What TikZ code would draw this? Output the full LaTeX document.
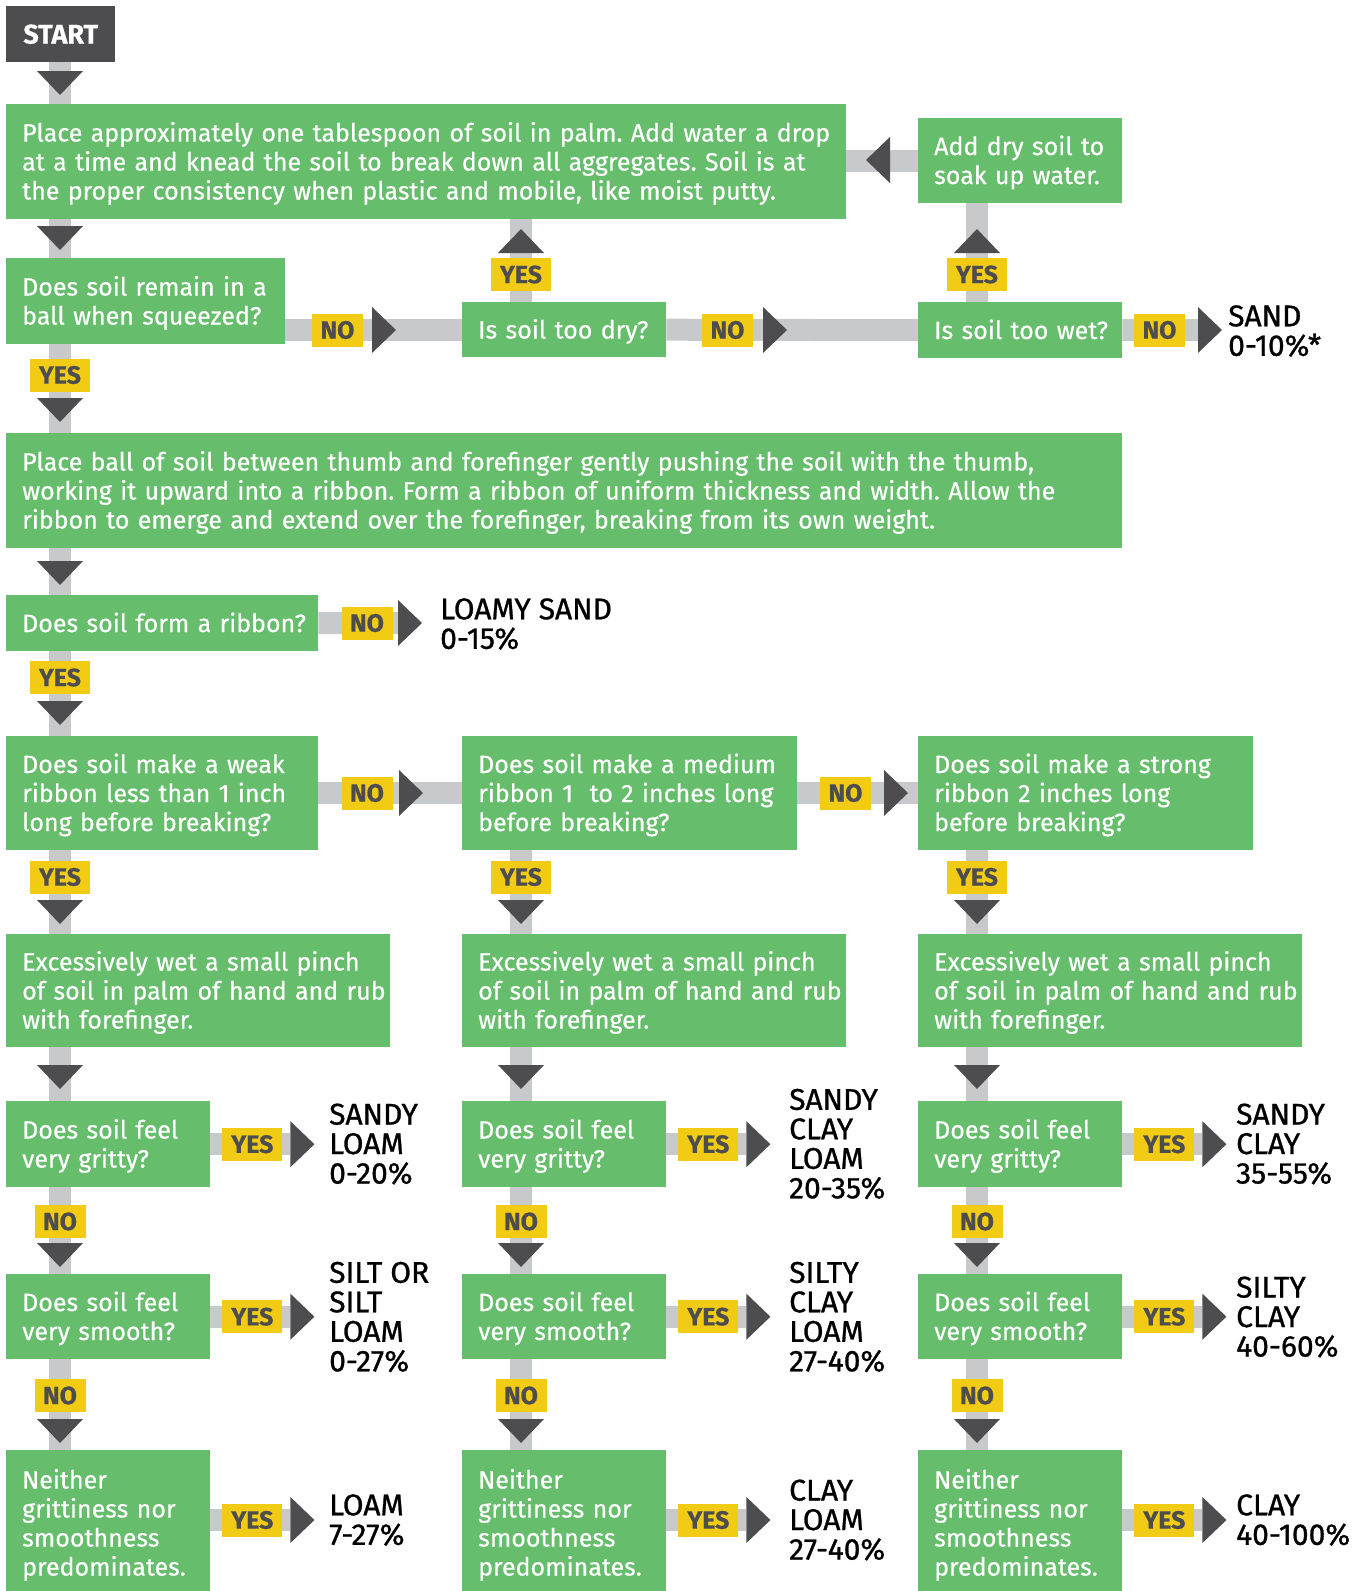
\documentclass[tikz,border=0pt]{standalone}
\usepackage{fontspec}
\setmainfont{Fira Sans}[FakeBold=0.5]
\newfontfamily\resfam{Fira Sans}[FakeBold=0.9]
\usetikzlibrary{calc}
\definecolor{bgreen}{HTML}{66BD6B}
\definecolor{cgray}{HTML}{C8C9CB}
\definecolor{dgray}{HTML}{4D4D4F}
\definecolor{lyell}{HTML}{F1CB14}
\frenchspacing
\newcommand\boxfont{\fontsize{25}{29}\selectfont}
\newcommand\labfont{\fontsize{25}{29}\selectfont\bfseries}
\newcommand\resfont{\resfam\fontsize{30}{29.5}\selectfont}
\newcommand\tl[1]{\raisebox{-3pt}[\height][\depth]{\begin{tabular}{@{}l@{}}#1\end{tabular}}}
\pgfdeclarelayer{bg}
\pgfsetlayers{bg,main}
\tikzset{
  box/.style={fill=bgreen, text=white, anchor=north west, inner xsep=16pt, inner ysep=0pt, align=left, font=\boxfont},
  startbox/.style={fill=dgray, text=white, anchor=north west, inner sep=0pt, font=\fontsize{27}{29}\selectfont\bfseries, minimum width=109pt, minimum height=56pt},
  lab/.style={fill=lyell, text=dgray, font=\labfont, minimum height=33pt, inner xsep=0pt, inner ysep=0pt},
  yes/.style={lab, minimum width=60pt},
  no/.style={lab, minimum width=51pt},
  res/.style={anchor=west, align=left, font=\resfont, inner sep=0pt, text=black},
  conn/.style={draw=cgray, line width=22pt},
  tri/.style={fill=dgray},
}
% triangles: down (tip), up (tip), right (base centre), left (tip)
\newcommand\dtri[1]{\fill[tri] #1 -- ++(-23,-24) -- ++(46,0) -- cycle;}
\newcommand\utri[1]{\fill[tri] #1 -- ++(-23,24) -- ++(46,0) -- cycle;}
\newcommand\rtri[1]{\fill[tri] #1 ++(0,-23) -- ++(24,23) -- ++(-24,23) -- cycle;}
\newcommand\ltri[1]{\fill[tri] #1 -- ++(24,-23) -- ++(0,46) -- cycle;}
\begin{document}
\begin{tikzpicture}[x=1pt,y=-1pt]
\useasboundingbox (0,0) rectangle (1365,1591);
\coordinate (c1) at (60,0);
\coordinate (c2) at (521,0);
\coordinate (c3) at (977,0);

% ---------- boxes ----------
\node[startbox] (start) at (6,6) {START};
\node[box, minimum width=840pt, minimum height=115pt, text width=808pt] (b1) at (6,104)
  {\tl{Place approximately one tablespoon of soil in palm. Add water a drop\\at a time and knead the soil to break down all aggregates. Soil is at\\the proper consistency when plastic and mobile, like moist putty.}};
\node[box, minimum width=279pt, minimum height=86pt, text width=247pt] (b2) at (6,258)
  {\tl{Does soil remain in a\\ball when squeezed?}};
\node[box, minimum width=204pt, minimum height=55pt, text width=172pt] (dry) at (462,302)
  {\tl{Is soil too dry?}};
\node[box, minimum width=204pt, minimum height=85pt, text width=172pt] (add) at (918,118)
  {\tl{Add dry soil to\\soak up water.}};
\node[box, minimum width=204pt, minimum height=56pt, text width=172pt] (wet) at (918,302)
  {\tl{Is soil too wet?}};
\node[box, minimum width=1116pt, minimum height=115pt, text width=1084pt] (b3) at (6,433)
  {\tl{Place ball of soil between thumb and forefinger gently pushing the soil with the thumb,\\working it upward into a ribbon. Form a ribbon of uniform thickness and width. Allow the\\ribbon to emerge and extend over the forefinger, breaking from its own weight.}};
\node[box, minimum width=312pt, minimum height=56pt, text width=280pt] (b4) at (6,595)
  {\tl{Does soil form a ribbon?}};
\node[box, minimum width=312pt, minimum height=114pt, text width=280pt] (weak) at (6,736)
  {\tl{Does soil make a weak\\ribbon less than 1 inch\\long before breaking?}};
\node[box, minimum width=335pt, minimum height=114pt, text width=303pt] (med) at (462,736)
  {\tl{Does soil make a medium\\ribbon 1\ \ to 2 inches long\\before breaking?}};
\node[box, minimum width=335pt, minimum height=114pt, text width=303pt] (strong) at (918,736)
  {\tl{Does soil make a strong\\ribbon 2 inches long\\before breaking?}};
\foreach \i/\x in {1/6,2/462,3/918}{
  \node[box, minimum width=384pt, minimum height=113pt, text width=352pt] (ex\i) at (\x,934)
    {\tl{Excessively wet a small pinch\\of soil in palm of hand and rub\\with forefinger.}};
  \node[box, minimum width=204pt, minimum height=86pt, text width=172pt] (gr\i) at (\x,1101)
    {\tl{Does soil feel\\very gritty?}};
  \node[box, minimum width=204pt, minimum height=85pt, text width=172pt] (sm\i) at (\x,1274)
    {\tl{Does soil feel\\very smooth?}};
  \node[box, minimum width=204pt, minimum height=146pt, text width=172pt] (ne\i) at (\x,1450)
    {\tl{Neither\\grittiness nor\\smoothness\\predominates.}};
}

% ---------- connectors ----------
\coordinate (t1) at (1198,330);
\coordinate (t4) at (398,623);
\begin{pgfonlayer}{bg}
  \draw[conn] (start.south -| c1) -- (b1.north -| c1);
  \draw[conn] (b1.south -| c1) -- (b2.north -| c1);
  \draw[conn] (b2.south -| c1) -- (b3.north -| c1);
  \draw[conn] (b3.south -| c1) -- (b4.north -| c1);
  \draw[conn] (b4.south -| c1) -- (weak.north -| c1);
  \draw[conn] (b2.east |- dry.west) -- (dry.west);
  \draw[conn] (dry.east) -- (wet.west);
  \draw[conn] (wet.east) -- (t1);
  \draw[conn] (dry.north -| c2) -- (b1.south -| c2);
  \draw[conn] (wet.north -| c3) -- (add.south -| c3);
  \draw[conn] (add.west) -- (b1.east |- add.west);
  \draw[conn] (b4.east) -- (t4);
  \draw[conn] (weak.east) -- (med.west);
  \draw[conn] (med.east) -- (strong.west);
  \draw[conn] (weak.south -| c1) -- (ex1.north -| c1);
  \draw[conn] (med.south -| c2) -- (ex2.north -| c2);
  \draw[conn] (strong.south -| c3) -- (ex3.north -| c3);
  \foreach \i in {1,2,3}{
    \draw[conn] (ex\i.south -| c\i) -- (gr\i.north -| c\i);
    \draw[conn] (gr\i.south -| c\i) -- (sm\i.north -| c\i);
    \draw[conn] (sm\i.south -| c\i) -- (ne\i.north -| c\i);
    \draw[conn] (gr\i.east) -- ++(80,0);
    \draw[conn] (sm\i.east) -- ++(80,0);
    \draw[conn] (ne\i.east |- 0,1520) -- ++(80,0);
  }
\end{pgfonlayer}

% ---------- arrow heads ----------
\dtri{(60,95)}
\dtri{(60,250)}
\dtri{(60,422)}
\dtri{(60,585)}
\dtri{(60,725)}
\utri{(521,229)}
\utri{(977,229)}
\ltri{(866,160)}
\rtri{(372,330)}
\rtri{(763,330)}
\rtri{(t1)}
\rtri{(t4)}
\rtri{(399,793)}
\rtri{(884,793)}
\foreach \i in {1,2,3}{
  \dtri{($(c\i)+(0,924)$)}
  \dtri{($(c\i)+(0,1089)$)}
  \dtri{($(c\i)+(0,1267)$)}
  \dtri{($(c\i)+(0,1443)$)}
  \rtri{($(gr\i.east)+(80,0)$)}
  \rtri{($(sm\i.east)+(80,0)$)}
  \rtri{($(ne\i.east |- 0,1520)+(80,0)$)}
}

% ---------- labels ----------
\node[no] (n1) at (337.5,330) {NO};
\node[no] (n2) at (727.5,330) {NO};
\node[no] (n3) at (1159.5,330) {NO};
\node[yes] (y1) at (521,274.5) {YES};
\node[yes] (y2) at (977,274.5) {YES};
\node[yes] (y3) at (60,375) {YES};
\node[no] (n4) at (367,623) {NO};
\node[yes] (y4) at (60,677.5) {YES};
\node[no] (n5) at (367,793) {NO};
\node[no] (n6) at (845.5,793) {NO};
\foreach \i in {1,2,3}{
  \node[yes] (ya\i) at ($(c\i)+(0,877)$) {YES};
  \node[no] (nb\i) at ($(c\i)+(0,1221.5)$) {NO};
  \node[no] (nc\i) at ($(c\i)+(0,1395.5)$) {NO};
  \node[yes] (yb\i) at ($(gr\i.east)+(42,0)$) {YES};
  \node[yes] (yc\i) at ($(sm\i.east)+(42,0)$) {YES};
  \node[yes] (yd\i) at ($(ne\i.east |- 0,1520)+(42,0)$) {YES};
}

% ---------- results ----------
\node[res] (sand) at (1228,331) {SAND\\0-10\%*};
\node[res] (lsand) at (440,624) {LOAMY SAND\\0-15\%};
\node[res] (r71) at (329,1144) {SANDY\\LOAM\\0-20\%};
\node[res] (r72) at (789,1144) {SANDY\\CLAY\\LOAM\\20-35\%};
\node[res] (r73) at (1236,1144) {SANDY\\CLAY\\35-55\%};
\node[res] (r81) at (329,1317) {SILT OR\\SILT\\LOAM\\0-27\%};
\node[res] (r82) at (789,1317) {SILTY\\CLAY\\LOAM\\27-40\%};
\node[res] (r83) at (1236,1317) {SILTY\\CLAY\\40-60\%};
\node[res] (r91) at (329,1520) {LOAM\\7-27\%};
\node[res] (r92) at (789,1520) {CLAY\\LOAM\\27-40\%};
\node[res] (r93) at (1236,1520) {CLAY\\40-100\%};
\end{tikzpicture}
\end{document}
